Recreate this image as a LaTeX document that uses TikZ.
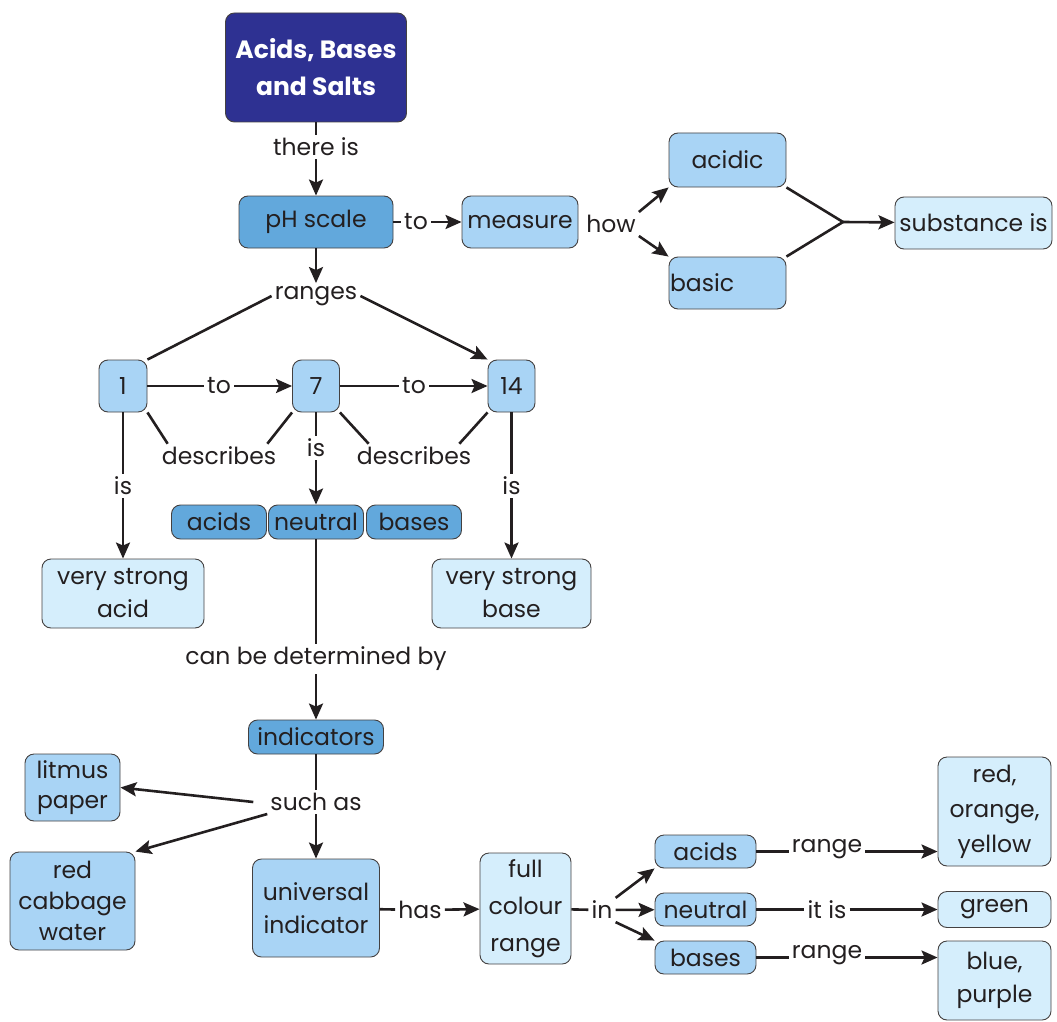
\documentclass[tikz,border=0pt]{standalone}
\usepackage{fontspec}
\setmainfont{Poppins}
\usetikzlibrary{arrows.meta}
\definecolor{ttl}{HTML}{2E3192}
\definecolor{midb}{HTML}{62A8DC}
\definecolor{ltb}{HTML}{A9D4F5}
\definecolor{vltb}{HTML}{D5EEFC}
\definecolor{ink}{HTML}{231F20}
\begin{document}
\begin{tikzpicture}[x=1pt,y=-1pt,
  every node/.style={font=\fontsize{23.5}{33}\selectfont, text=ink},
  box/.style={draw=ink!85, line width=0.9pt, rounded corners=9pt, align=center, inner sep=0pt},
  dkbox/.style={box, fill=ttl, text=white, font=\fontsize{25}{37}\selectfont\bfseries},
  midbox/.style={box, fill=midb},
  ltbox/.style={box, fill=ltb},
  vltbox/.style={box, fill=vltb},
  lbl/.style={inner sep=3pt},
  ln/.style={draw=ink, line width=2.6pt},
  arr/.style={ln, -{Stealth[length=16pt,width=14pt,inset=3pt]}}
]
\useasboundingbox (0,0) rectangle (1057,1022);

% nodes
\node[dkbox, minimum width=181, minimum height=109] (title) at (316,67.5) {Acids, Bases\\and Salts};
\node[midbox, minimum width=154, minimum height=52] (ph) at (316,222) {pH scale};
\node[ltbox, minimum width=116, minimum height=52] (measure) at (520,222) {measure};
\node[ltbox, minimum width=117, minimum height=54] (acidic) at (727.5,160) {acidic};
\node[ltbox, minimum height=52, text width=115, align=left, inner xsep=1pt] (basic) at (727.5,283) {basic};
\node[vltbox, minimum width=157, minimum height=52] (substance) at (973.5,223) {substance is};
\node[ltbox, minimum width=48, minimum height=52] (n1) at (123,386) {1};
\node[ltbox, minimum width=47, minimum height=52] (n7) at (316,386) {7};
\node[ltbox, minimum width=47, minimum height=52] (n14) at (511.5,386) {14};
\node[midbox, minimum width=95, minimum height=34] (acids) at (219,522) {acids};
\node[midbox, minimum width=95, minimum height=34] (neutral) at (316,522) {neutral};
\node[midbox, minimum width=95, minimum height=34] (bases) at (414,522) {bases};
\node[vltbox, minimum width=162, minimum height=69] (vsa) at (123,593.5) {very strong\\acid};
\node[vltbox, minimum width=159, minimum height=69] (vsb) at (511.5,593.5) {very strong\\base};
\node[midbox, minimum width=135, minimum height=34] (ind) at (316,737) {indicators};
\node[ltbox, minimum width=95, minimum height=67, font=\fontsize{23.5}{30}\selectfont] (litmus) at (72.5,787.5) {litmus\\paper};
\node[ltbox, minimum width=125, minimum height=98, font=\fontsize{23.5}{31}\selectfont] (cabbage) at (72.5,901) {red\\cabbage\\water};
\node[ltbox, minimum width=127, minimum height=98] (univ) at (316,908) {universal\\indicator};
\node[vltbox, minimum width=91, minimum height=111, font=\fontsize{23.5}{37}\selectfont] (full) at (525.5,908.5) {full\\colour\\range};
\node[ltbox, minimum width=101, minimum height=33] (acids2) at (705.5,851.5) {acids};
\node[ltbox, minimum width=101, minimum height=33] (neutral2) at (705.5,909.5) {neutral};
\node[ltbox, minimum width=101, minimum height=33] (bases2) at (705.5,957.5) {bases};
\node[vltbox, minimum width=113, minimum height=109, font=\fontsize{23.5}{35}\selectfont] (roy) at (994.5,811.5) {red,\\orange,\\yellow};
\node[vltbox, minimum width=113, minimum height=36] (green) at (994.5,909.5) {green};
\node[vltbox, minimum width=113, minimum height=79] (bp) at (994.5,980.5) {blue,\\purple};

% labels
\node[lbl] (thereis) at (316,147) {there is};
\node[lbl] (to1) at (416,222) {to};
\node[lbl] (how) at (611,224) {how};
\node[lbl] (ranges) at (316,296) {ranges};
\node[lbl] (to2) at (219,386) {to};
\node[lbl] (to3) at (414,386) {to};
\node[lbl] (desc1) at (219,456) {describes};
\node[lbl] (desc2) at (414,456) {describes};
\node[lbl] (is7) at (316,448) {is};
\node[lbl] (is1) at (123,486) {is};
\node[lbl] (is14) at (511.5,486) {is};
\node[lbl] (cbd) at (316,659) {can be determined by};
\node[lbl] (suchas) at (316,802) {such as};
\node[lbl] (has) at (420,910) {has};
\node[lbl] (in) at (602,910) {in};
\node[lbl] (range1) at (827,849) {range};
\node[lbl] (itis) at (827,909.5) {it is};
\node[lbl] (range2) at (827,955) {range};

% connectors
\draw[ln] (title) -- (thereis);
\draw[arr] (thereis) -- (ph);
\draw[ln] (ph) -- (to1);
\draw[arr] (to1) -- (measure);
\draw[arr] (how.north east) -- (acidic.south west);
\draw[arr] (how.south east) -- (basic.north west);
\coordinate (jn) at (843,222);
\draw[ln] (acidic.south east) -- (jn) -- (basic.north east);
\draw[arr] (jn) -- (substance);
\draw[arr] (ph) -- (ranges);
\draw[ln] (ranges.west) -- (n1.north east);
\draw[arr] (ranges.east) -- (n14.north west);
\draw[ln] (n1) -- (to2);
\draw[arr] (to2) -- (n7);
\draw[ln] (n7) -- (to3);
\draw[arr] (to3) -- (n14);
\draw[ln] (n1.south east) -- ([xshift=9pt]desc1.north west);
\draw[ln] (n7.south west) -- ([xshift=-12pt]desc1.north east);
\draw[ln] (n7.south east) -- ([xshift=15pt]desc2.north west);
\draw[ln] (n14.south west) -- ([xshift=-15pt]desc2.north east);
\draw[ln] (n7) -- (is7);
\draw[arr] (is7) -- (neutral);
\draw[ln] (n1) -- (is1);
\draw[arr] (is1) -- (vsa);
\draw[ln] (n14) -- (is14);
\draw[arr] (is14) -- (vsb);
\draw[ln] (neutral) -- (cbd);
\draw[arr] (cbd) -- (ind);
\draw[ln] (ind) -- (suchas);
\draw[arr] (suchas) -- (univ);
\draw[arr] ([xshift=-14pt]suchas.west) -- (litmus.east);
\draw[arr] (suchas.south west) -- (cabbage.north east);
\draw[ln] (univ) -- (has);
\draw[arr] (has) -- (full);
\draw[ln] (full) -- (in);
\draw[arr] (in.north east) -- (acids2.south west);
\draw[arr] (in) -- (neutral2);
\draw[arr] (in.south east) -- (bases2.north west);
\draw[ln] (acids2) -- (acids2 -| range1.west);
\draw[arr] (range1.east |- acids2) -- (acids2 -| roy.west);
\draw[ln] (neutral2) -- (itis);
\draw[arr] (itis) -- (green);
\draw[ln] (bases2) -- (bases2 -| range2.west);
\draw[arr] (range2.east |- bases2) -- (bases2 -| bp.west);
\end{tikzpicture}
\end{document}
